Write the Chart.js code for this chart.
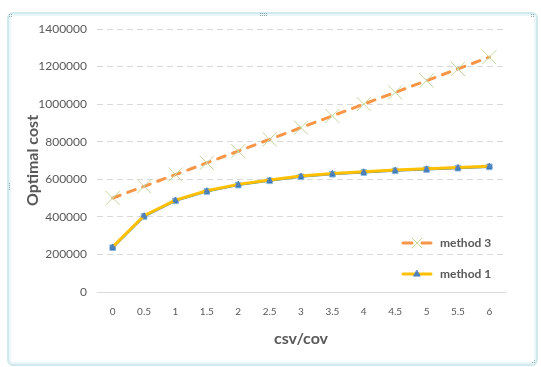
<!DOCTYPE html>
<html>
<head>
<meta charset="utf-8">
<script src="https://cdn.jsdelivr.net/npm/chart.js@4"></script>
<style>
  html, body { margin: 0; padding: 0; background: #ffffff; }
  #wrap { position: relative; width: 541px; height: 367px; overflow: hidden; }
  #frame {
    position: absolute; left: 7px; top: 12px; width: 527px; height: 350px;
    border: 2px solid #cfe9ec; border-radius: 6px;
    box-shadow: inset 0 0 0 2px #eaf6f7;
  }
  .grip { position: absolute; width: 1px; height: 1px; background: #8fa9ad; }
  #c { position: absolute; left: 0; top: 0; }
</style>
</head>
<body>
<div id="wrap">
  <div id="frame"></div>
  <canvas id="c" width="541" height="367"></canvas>
</div>
<script>
// csv/cov ratios along the horizontal axis
const categories = ['0', '0.5', '1', '1.5', '2', '2.5', '3', '3.5', '4', '4.5', '5', '5.5', '6'];

// optimal cost per method
const method3 = [500000, 562500, 625000, 687500, 750000, 812500, 875000, 937500, 1000000, 1062500, 1125000, 1187500, 1250000];
const method2 = [236000, 402000, 485000, 535000, 569000, 592000, 613000, 627000, 636000, 645000, 652000, 659000, 666000];
const method1 = [240000, 406000, 489000, 539000, 573000, 596000, 617000, 631000, 640000, 649000, 656000, 663000, 670000];

// value axis ticks
const yTicks = [0, 200000, 400000, 600000, 800000, 1000000, 1200000, 1400000];

const GREY = '#595959';
const GRID = '#d9d9d9';

// small grips on the chart frame
(function () {
  const wrap = document.getElementById('wrap');
  const spots = [[9, 14], [11, 14], [9, 16], [11, 16], [531, 14], [533, 14], [531, 16], [533, 16],
                 [260, 13], [262, 13], [264, 13], [266, 13], [260, 15], [262, 15], [264, 15], [266, 15],
                 [9, 183], [9, 185], [9, 187], [9, 189], [534, 360], [532, 362], [534, 362]];
  spots.forEach(([x, y]) => {
    const d = document.createElement('div');
    d.className = 'grip';
    d.style.left = x + 'px'; d.style.top = y + 'px';
    wrap.appendChild(d);
  });
})();

// legend drawn inside the plot area at the lower right
const insideLegend = {
  id: 'insideLegend',
  afterDraw(chart) {
    const ctx = chart.ctx;
    const entries = [
      { ds: chart.data.datasets[0], y: 243 },
      { ds: chart.data.datasets[2], y: 274 }
    ];
    ctx.save();
    entries.forEach(({ ds, y }) => {
      ctx.lineWidth = ds.borderWidth;
      ctx.strokeStyle = ds.borderColor;
      ctx.lineCap = ds.borderCapStyle || 'butt';
      ctx.setLineDash(ds.legendDash || []);
      ctx.beginPath();
      ctx.moveTo(403, y);
      ctx.lineTo(431, y);
      ctx.stroke();
      ctx.setLineDash([]);
      ctx.fillStyle = ds.pointBackgroundColor;
      ctx.strokeStyle = ds.pointBorderColor;
      ctx.lineWidth = ds.pointBorderWidth;
      ctx.beginPath();
      if (ds.pointStyle === 'crossRot') {
        const r = ds.legendPointRadius * 0.7071;
        ctx.moveTo(417 - r, y - r); ctx.lineTo(417 + r, y + r);
        ctx.moveTo(417 - r, y + r); ctx.lineTo(417 + r, y - r);
        ctx.stroke();
      } else {
        const r = ds.legendPointRadius;
        ctx.moveTo(417, y - r);
        ctx.lineTo(417 + r * 0.9, y + r * 0.6);
        ctx.lineTo(417 - r * 0.9, y + r * 0.6);
        ctx.closePath();
        ctx.fill();
        ctx.stroke();
      }
      ctx.fillStyle = GREY;
      ctx.font = 'bold 12px Lato';
      ctx.textBaseline = 'middle';
      ctx.textAlign = 'left';
      ctx.fillText(ds.label, 440, y);
    });
    ctx.restore();
  }
};

new Chart(document.getElementById('c'), {
  type: 'line',
  data: {
    labels: categories,
    datasets: [
      {
        label: 'method 3',
        data: method3,
        order: 3,
        borderColor: '#f79646',
        borderWidth: 3,
        borderDash: [8, 8],
        legendDash: [9, 10],
        borderCapStyle: 'round',
        pointStyle: 'crossRot',
        pointRadius: 10,
        legendPointRadius: 7,
        pointBorderWidth: 1,
        pointBorderColor: '#c4d79b',
        pointBackgroundColor: '#c4d79b',
        tension: 0
      },
      {
        label: 'method 2',
        data: method2,
        order: 2,
        borderColor: '#3d7fc0',
        borderWidth: 2,
        pointStyle: 'rect',
        pointRadius: 4,
        pointBorderWidth: 1,
        pointBorderColor: '#8fb8e0',
        pointBackgroundColor: '#2f75b5',
        tension: 0
      },
      {
        label: 'method 1',
        data: method1,
        order: 1,
        borderColor: '#ffc000',
        borderWidth: 3,
        borderCapStyle: 'round',
        pointStyle: 'triangle',
        pointRadius: 3,
        legendPointRadius: 3.5,
        pointBorderWidth: 1,
        pointBorderColor: '#4f81bd',
        pointBackgroundColor: '#4f81bd',
        tension: 0
      }
    ]
  },
  options: {
    responsive: false,
    animation: false,
    events: [],
    layout: { padding: { left: 19, top: 29, right: 36, bottom: 19 } },
    plugins: {
      legend: { display: false },
      tooltip: { enabled: false },
      title: { display: false }
    },
    scales: {
      x: {
        offset: true,
        grid: { display: false, drawTicks: false },
        border: { display: true, color: GRID, width: 1 },
        ticks: { color: GREY, font: { family: 'Lato', size: 10 }, padding: 14, maxRotation: 0, autoSkip: false },
        title: { display: true, text: 'csv/cov', color: GREY, font: { family: 'Lato', size: 16, weight: 'bold' }, padding: { top: 0, bottom: 0 } },
        afterFit(scale) { scale.height = 56; }
      },
      y: {
        min: 0,
        max: 1400000,
        afterBuildTicks(scale) { scale.ticks = yTicks.map(v => ({ value: v })); },
        grid: {
          drawTicks: false,
          color: (c) => (c.tick && c.tick.value === 0 ? 'rgba(0,0,0,0)' : GRID),
          lineWidth: 1
        },
        border: { display: false, dash: [6, 4] },
        ticks: { color: GREY, font: { family: 'Lato', size: 12 }, padding: 10, callback: (v) => String(v) },
        title: { display: true, text: 'Optimal cost', color: GREY, font: { family: 'Lato', size: 16, weight: 'bold' }, padding: { top: 4, bottom: 0 } },
        afterFit(scale) { scale.width = 78; }
      }
    }
  },
  plugins: [insideLegend]
});
</script>
</body>
</html>
